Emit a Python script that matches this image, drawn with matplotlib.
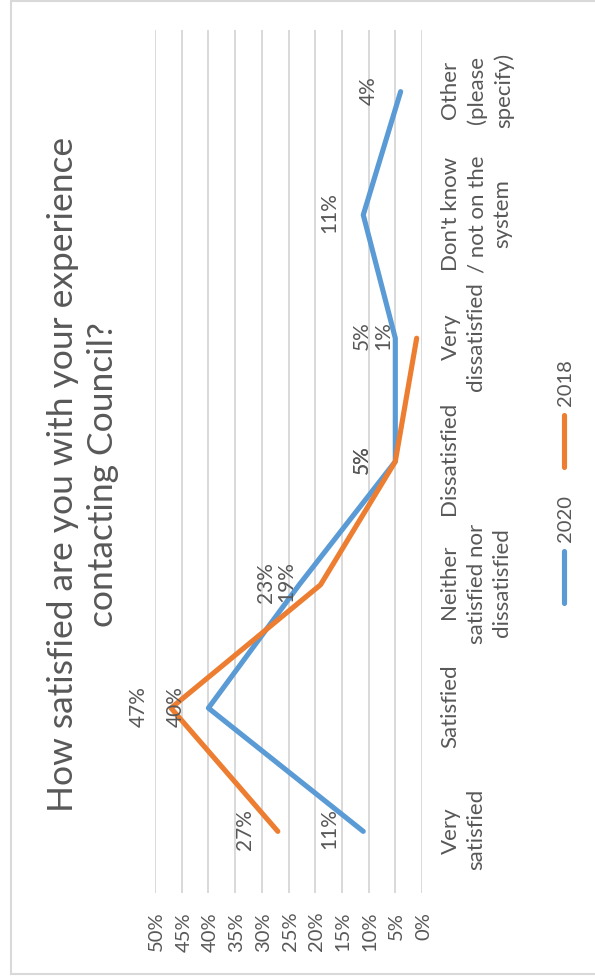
import numpy as np
import matplotlib
matplotlib.use("Agg")
import matplotlib.pyplot as plt
from matplotlib.patches import Rectangle

plt.rcParams["font.family"] = ["Lato", "DejaVu Sans"]

# Survey responses (percent of respondents)
categories = [
    "Very\nsatisfied",
    "Satisfied",
    "Neither\nsatisfied nor\ndissatisfied",
    "Dissatisfied",
    "Very\ndissatisfied",
    "Don't know\n/ not on the\nsystem",
    "Other\n(please\nspecify)",
]
values_2020 = [11, 40, 23, 5, 5, 11, 4]
values_2018 = [27, 47, 19, 5, 1, None, None]
series_names = ["2020", "2018"]
y_ticks = [0, 5, 10, 15, 20, 25, 30, 35, 40, 45, 50]
title_text = "How satisfied are you with your experience\ncontacting Council?"

GREY = "#595959"
BLUE = "#5B9BD5"
ORANGE = "#ED7D31"
GRID = "#D9D9D9"

W, H = 977, 595
fig = plt.figure(figsize=(W / 100, H / 100), dpi=100)
fig.patch.set_facecolor("white")

# outer chart frame
fig.add_artist(Rectangle((3 / W, -0.02), (973 / W), 1 - 11 / H + 0.02,
                         transform=fig.transFigure, fill=False,
                         edgecolor=GRID, lw=1.5))

ax = fig.add_axes([84 / W, 1 - 422 / H, (947 - 84) / W, (422 - 155) / H])
x = np.arange(len(categories))
y20 = np.array([np.nan if v is None else v for v in values_2020], dtype=float)
y18 = np.array([np.nan if v is None else v for v in values_2018], dtype=float)

line_kw = dict(lw=3.7, solid_capstyle="round", solid_joinstyle="round", zorder=3)
ax.plot(x, y20, color=BLUE, label=series_names[0], **line_kw)
ax.plot(x, y18, color=ORANGE, label=series_names[1], **line_kw)

for yvals in (y20, y18):
    for xi, v in zip(x, yvals):
        if np.isnan(v):
            continue
        ax.annotate(f"{v:.0f}%", (xi, v), xytext=(0, 23.8), textcoords="offset points",
                    ha="center", va="center", fontsize=15, color=GREY, zorder=6,
                    annotation_clip=False)

ax.set_xlim(-0.5, len(categories) - 0.5)
ax.set_ylim(0, 50)
ax.set_yticks(y_ticks)
ax.set_yticklabels([f"{t}%" for t in y_ticks])
ax.set_xticks(x)
ax.set_xticklabels(categories, linespacing=1.38)
ax.grid(axis="y", color=GRID, lw=1.4)
ax.set_axisbelow(True)
for s in ax.spines.values():
    s.set_visible(False)
ax.tick_params(axis="y", length=0, pad=15, labelsize=14.5, labelcolor=GREY)
ax.tick_params(axis="x", length=0, pad=13, labelsize=16, labelcolor=GREY)

fig.text(0.513, 1 - 82 / H, title_text, ha="center", va="center",
         fontsize=25.5, color=GREY, linespacing=1.3)

leg = fig.legend(loc="center", bbox_to_anchor=(0.506, 0.05), ncol=2, frameon=False,
                 fontsize=14.5, handlelength=2.6, columnspacing=1.4, handletextpad=0.4)
for t in leg.get_texts():
    t.set_color(GREY)

fig.canvas.draw()
img = np.asarray(fig.canvas.buffer_rgba())
rotated = np.ascontiguousarray(np.rot90(img, k=1))
plt.imsave("out.png", rotated)
